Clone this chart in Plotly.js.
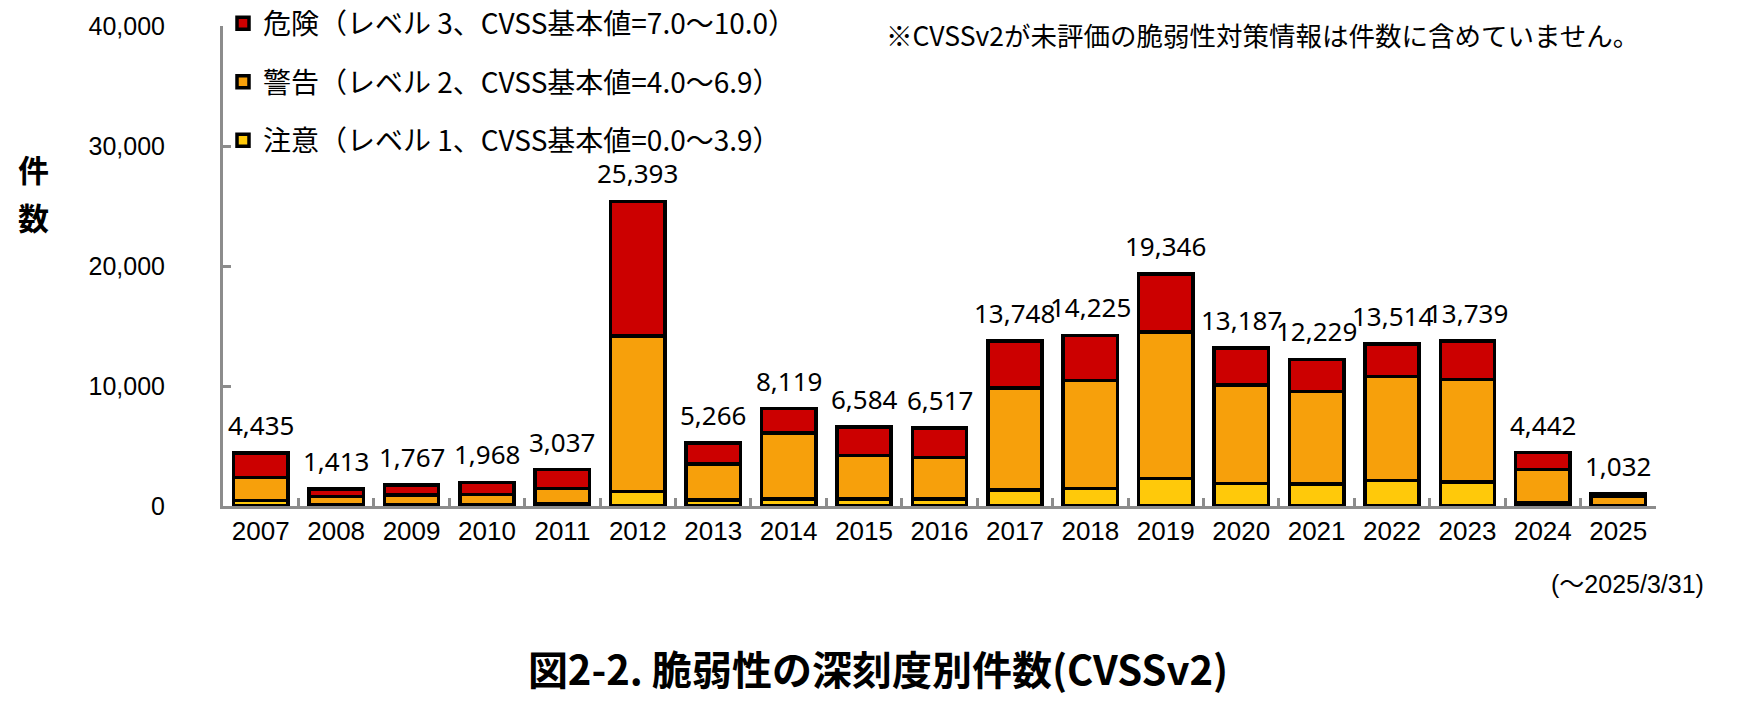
<!DOCTYPE html>
<html>
<head>
<meta charset="utf-8">
<script src="https://cdn.plot.ly/plotly-3.0.1.min.js"></script>
<style>html,body{margin:0;padding:0;background:#fff;}#chart{width:1754px;height:714px;}</style>
</head>
<body>
<div id="chart"></div>
<script>
const years = ["2007","2008","2009","2010","2011","2012","2013","2014","2015","2016","2017","2018","2019","2020","2021","2022","2023","2024","2025"];
const totals = [4435,1413,1767,1968,3037,25393,5266,8119,6584,6517,13748,14225,19346,13187,12229,13514,13739,4442,1032];
const lowLevel = [444,80,100,100,220,1192,500,600,600,600,1330,1440,2280,1890,1830,2130,1980,300,40];
const midLevel = [1945,698,817,872,1252,12975,3000,5480,3622,3428,8503,9004,12220,8193,7698,8670,8576,2756,800];
const highLevel = [2046,635,850,996,1565,11226,1766,2039,2362,2489,3915,3781,4846,3104,2701,2714,3183,1386,192];
const seriesNames = [
  "注意（レベル 1、CVSS基本値=0.0～3.9）",
  "警告（レベル 2、CVSS基本値=4.0～6.9）",
  "危険（レベル 3、CVSS基本値=7.0～10.0）"
];
const seriesColors = ["#FFC90A", "#F7A00B", "#CC0000"];
const yTickVals = [0, 10000, 20000, 30000, 40000];
const yTickText = ["0", "10,000", "20,000", "30,000", "40,000"];

const jp = '"Noto Sans CJK JP", "Noto Sans", sans-serif';
const values = [lowLevel, midLevel, highLevel];
const traces = values.map((v, i) => ({
  type: "bar",
  x: years,
  y: v,
  name: seriesNames[i],
  legendgroup: "g" + i,
  legendrank: 3 - i,
  marker: {color: seriesColors[i], line: {color: "#000", width: 3.5}},
  hoverinfo: "x+y+name"
}));

const annotations = years.map((yr, i) => ({
  x: i, y: totals[i], xref: "x", yref: "y",
  text: totals[i].toLocaleString("en-US"),
  showarrow: false, yanchor: "bottom", yshift: 8,
  font: {family: '"Noto Sans", sans-serif', size: 26, color: "#000"}
}));
annotations.push({
  xref: "paper", yref: "paper", x: 0.461, y: 0.983, xanchor: "left", yanchor: "middle",
  text: "※CVSSv2が未評価の脆弱性対策情報は件数に含めていません。", showarrow: false,
  font: {family: jp, size: 26.5, color: "#000"}
});
annotations.push({
  xref: "paper", yref: "paper", x: -0.132, y: 0.704, xanchor: "center", yanchor: "middle",
  text: "<b>件</b>", showarrow: false, font: {family: jp, size: 31, color: "#000"}
});
annotations.push({
  xref: "paper", yref: "paper", x: -0.132, y: 0.604, xanchor: "center", yanchor: "middle",
  text: "<b>数</b>", showarrow: false, font: {family: jp, size: 31, color: "#000"}
});
annotations.push({
  xref: "paper", yref: "paper", x: 0.98, y: -0.1625, xanchor: "center", yanchor: "middle",
  text: "(～2025/3/31)", showarrow: false, font: {family: '"Liberation Sans", "Noto Sans CJK JP", sans-serif', size: 25, color: "#000"}
});

const layout = {
  width: 1754, height: 714,
  margin: {l: 223, r: 98, t: 26, b: 208, autoexpand: false},
  paper_bgcolor: "#fff", plot_bgcolor: "#fff",
  barmode: "stack", bargap: 0.28,
  showlegend: true,
  legend: {
    x: 0.0, y: 1.057, xanchor: "left", yanchor: "top",
    traceorder: "grouped", tracegroupgap: 19,
    font: {family: jp, size: 28, color: "#000"},
    bgcolor: "rgba(0,0,0,0)"
  },
  title: {
    text: "<b>図2-2. 脆弱性の深刻度別件数(CVSSv2)</b>",
    x: 0.5006, xanchor: "center", y: 0.06, yanchor: "middle",
    font: {family: jp, size: 40, color: "#000"}
  },
  xaxis: {
    type: "category",
    range: [-0.5, years.length - 0.5],
    showline: true, linecolor: "#8c8c8c", linewidth: 3,
    ticks: "inside", tickson: "boundaries", ticklen: 8, tickwidth: 3, tickcolor: "#8c8c8c",
    showgrid: false, zeroline: false, tickangle: 0,
    tickfont: {family: '"Liberation Sans", Arial, sans-serif', size: 26, color: "#000"}
  },
  yaxis: {
    range: [0, 40000],
    tickvals: yTickVals, ticktext: yTickText,
    showline: true, linecolor: "#8c8c8c", linewidth: 3,
    ticks: "inside", ticklen: 8, tickwidth: 3, tickcolor: "#8c8c8c",
    showgrid: false, zeroline: false,
    ticklabelstandoff: 50,
    tickfont: {family: '"Liberation Sans", Arial, sans-serif', size: 25, color: "#000"}
  },
  annotations: annotations
};

Plotly.newPlot("chart", traces, layout, {displayModeBar: false, staticPlot: true});
</script>
</body>
</html>
